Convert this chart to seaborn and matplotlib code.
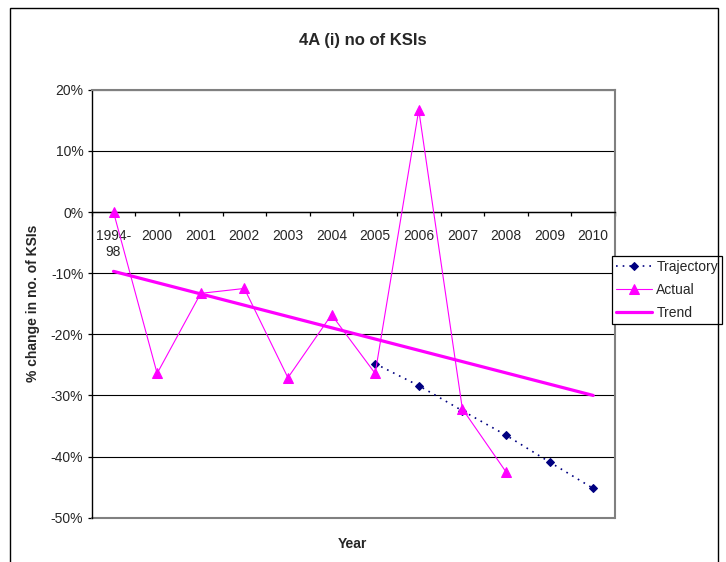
import numpy as np
import pandas as pd
import matplotlib
matplotlib.use("Agg")
import matplotlib.pyplot as plt
from matplotlib.patches import Rectangle
from matplotlib.ticker import FuncFormatter
import seaborn as sns

# ---- data (percent change in no. of KSIs) ----
categories = ["1994-\n98", "2000", "2001", "2002", "2003", "2004",
              "2005", "2006", "2007", "2008", "2009", "2010"]

actual_years = ["1994-\n98", "2000", "2001", "2002", "2003", "2004",
                "2005", "2006", "2007", "2008"]
actual = [0.0, -26.4, -13.3, -12.5, -27.1, -16.8, -26.4, 16.7, -32.2, -42.5]

trajectory_years = ["2005", "2006", "2007", "2008", "2009", "2010"]
trajectory = [-24.8, -28.4, -32.5, -36.5, -40.9, -45.2]

trend_years = ["1994-\n98", "2010"]
trend = [-9.7, -30.0]

y_ticks = [-50, -40, -30, -20, -10, 0, 10, 20]

# ---- style ----
sns.set_style("white")
plt.rcParams["font.family"] = ["Liberation Sans", "DejaVu Sans"]
plt.rcParams["axes.unicode_minus"] = False

pos = {c: i for i, c in enumerate(categories)}
df_traj = pd.DataFrame({"x": [pos[c] for c in trajectory_years], "y": trajectory})
df_act = pd.DataFrame({"x": [pos[c] for c in actual_years], "y": actual})
df_trend = pd.DataFrame({"x": [pos[c] for c in trend_years], "y": trend})

W, H = 726, 562
fig = plt.figure(figsize=(W / 100, H / 100), dpi=100)
ax = fig.add_axes([91.7 / W, 1 - 517.7 / H, (615 - 91.7) / W, (517.7 - 89.8) / H])

sns.lineplot(data=df_traj, x="x", y="y", ax=ax, sort=False, estimator=None,
             color="#000080", linestyle=(0, (1, 3)), lw=1.2, marker="D",
             markersize=4, markeredgecolor="#000080", label="Trajectory", zorder=3)
sns.lineplot(data=df_act, x="x", y="y", ax=ax, sort=False, estimator=None,
             color="#FF00FF", lw=0.8, marker="^", markersize=7,
             markeredgecolor="#FF00FF", label="Actual", zorder=4)
sns.lineplot(data=df_trend, x="x", y="y", ax=ax, sort=False, estimator=None,
             color="#FF00FF", lw=2.3, label="Trend", zorder=5)

# ---- axes ----
ax.set_xlim(-0.5, len(categories) - 0.5)
ax.set_ylim(-50, 20)
ax.set_yticks(y_ticks)
ax.yaxis.set_major_formatter(FuncFormatter(lambda v, p: f"{v:.0f}%"))
ax.yaxis.grid(True, color="black", lw=0.8)
ax.set_axisbelow(True)

ax.set_xticks(range(len(categories)))
ax.set_xticklabels(categories)
ax.set_xticks(np.arange(-0.5, len(categories), 1), minor=True)
ax.tick_params(axis="x", which="major", length=0, pad=12, labelsize=10)
ax.tick_params(axis="x", which="minor", length=3, width=0.9, direction="out",
               color="black", bottom=True)
ax.tick_params(axis="y", length=3, width=0.9, direction="out", color="black",
               left=True, pad=3, labelsize=10)
for t in ax.get_xticklabels():
    t.set_linespacing(1.55)
    t.set_verticalalignment("top")

ax.spines["left"].set_color("black")
ax.spines["left"].set_linewidth(1.0)
ax.spines["bottom"].set_position(("data", 0))
ax.spines["bottom"].set_color("black")
ax.spines["bottom"].set_linewidth(1.0)
for s in ["top", "right"]:
    ax.spines[s].set_color("#808080")
    ax.spines[s].set_linewidth(1.5)
ax.axhline(-50, color="#808080", lw=1.5, clip_on=False, zorder=1)

ax.set_xlabel("")
ax.set_ylabel("")

# ---- legend ----
handles, labels = ax.get_legend_handles_labels()
leg = ax.legend(handles, labels, loc="upper left",
                bbox_to_anchor=(612 / W, 1 - 256 / H), bbox_transform=fig.transFigure,
                frameon=True, fancybox=False, edgecolor="black", framealpha=1,
                fontsize=10, handlelength=2.6, borderpad=0.3, labelspacing=0.65,
                handletextpad=0.3, borderaxespad=0)
leg.get_frame().set_linewidth(0.9)

# ---- texts ----
fig.text(0.5, 1 - 40 / H, "4A (i) no of KSIs", ha="center", va="center",
         fontsize=12, fontweight="bold")
fig.text(33 / W, 1 - 303 / H, "% change in no. of KSIs", ha="center", va="center",
         rotation=90, fontsize=10, fontweight="bold")
fig.text(352 / W, 1 - 544 / H, "Year", ha="center", va="center",
         fontsize=10, fontweight="bold")

# chart area border
fig.add_artist(Rectangle((10 / W, -0.05), 708 / W, 0.05 + 1 - 8 / H, fill=False,
                         ec="black", lw=1.0, transform=fig.transFigure))

fig.savefig("out.png", dpi=100)
